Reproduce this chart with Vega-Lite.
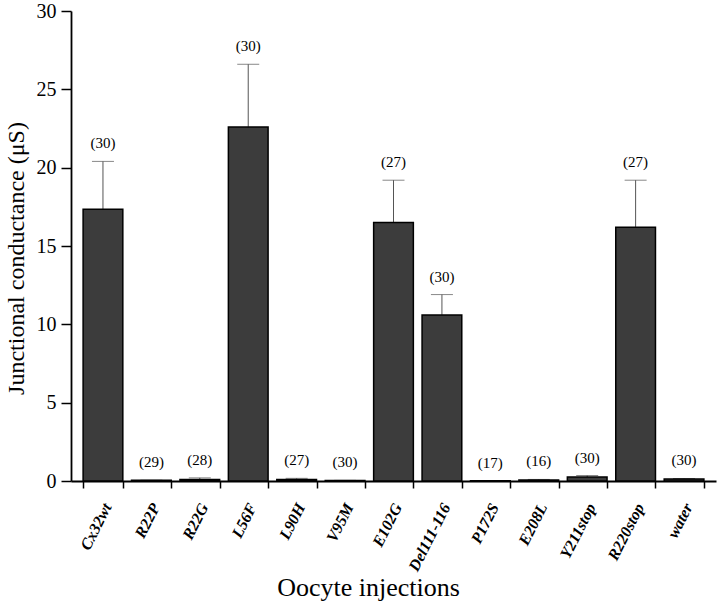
{
  "$schema": "https://vega.github.io/schema/vega-lite/v6.json",
  "width": 645,
  "height": 470,
  "autosize": {"type": "none"},
  "padding": {"left": 71, "top": 11, "right": 4, "bottom": 123},
  "background": "white",
  "config": {
    "font": "Liberation Serif",
    "axis": {"labelFont": "Liberation Serif", "titleFont": "Liberation Serif"},
    "text": {"font": "Liberation Serif"},
    "view": {"stroke": null}
  },
  "data": {
    "values": [
      {"mutant": "Cx32wt", "value": 17.35, "upper": 20.4, "n": "(30)"},
      {"mutant": "R22P", "value": 0.04, "upper": 0.05, "n": "(29)"},
      {"mutant": "R22G", "value": 0.1, "upper": 0.2, "n": "(28)"},
      {"mutant": "L56F", "value": 22.6, "upper": 26.6, "n": "(30)"},
      {"mutant": "L90H", "value": 0.1, "upper": 0.17, "n": "(27)"},
      {"mutant": "V95M", "value": 0.03, "upper": 0.04, "n": "(30)"},
      {"mutant": "E102G", "value": 16.5, "upper": 19.2, "n": "(27)"},
      {"mutant": "Del111-116", "value": 10.6, "upper": 11.9, "n": "(30)"},
      {"mutant": "P172S", "value": 0.02, "upper": 0.03, "n": "(17)"},
      {"mutant": "E208L", "value": 0.07, "upper": 0.1, "n": "(16)"},
      {"mutant": "Y211stop", "value": 0.25, "upper": 0.35, "n": "(30)"},
      {"mutant": "R220stop", "value": 16.2, "upper": 19.2, "n": "(27)"},
      {"mutant": "water", "value": 0.12, "upper": 0.16, "n": "(30)"}
    ]
  },
  "encoding": {
    "x": {
      "field": "mutant",
      "type": "nominal",
      "sort": null,
      "scale": {"paddingInner": 0.18, "paddingOuter": 0.25, "align": 0.5},
      "axis": {
        "title": "Oocyte injections",
        "titleFont": "Liberation Serif",
        "titleFontSize": 26,
        "titleFontWeight": "normal",
        "titleColor": "black",
        "titleX": 297,
        "titleY": 106,
        "titleAlign": "center",
        "titleBaseline": "middle",
        "labelFont": "Liberation Serif",
        "labelAngle": -63,
        "labelAlign": "right",
        "labelBaseline": "middle",
        "labelFontSize": 16,
        "labelFontWeight": "bold",
        "labelFontStyle": "italic",
        "labelColor": "black",
        "labelPadding": 16,
        "labelOffset": 4,
        "tickBand": "extent",
        "tickSize": 7,
        "tickWidth": 1.5,
        "tickColor": "black",
        "domainColor": "black",
        "domainWidth": 1.8,
        "grid": false
      }
    }
  },
  "layer": [
    {
      "mark": {"type": "rule", "color": "#555555", "strokeWidth": 1},
      "encoding": {
        "y": {"field": "value", "type": "quantitative"},
        "y2": {"field": "upper"}
      }
    },
    {
      "mark": {"type": "tick", "color": "#555555", "thickness": 1, "size": 22},
      "encoding": {
        "y": {"field": "upper", "type": "quantitative"}
      }
    },
    {
      "mark": {"type": "bar", "fill": "#3c3c3c", "stroke": "black", "strokeWidth": 1.5},
      "encoding": {
        "y": {
          "field": "value",
          "type": "quantitative",
          "scale": {"domain": [0, 30], "nice": false, "zero": true},
          "axis": {
            "title": "Junctional conductance (μS)",
            "titleFont": "Liberation Serif",
            "titleFontSize": 24,
            "titleFontWeight": "normal",
            "titleColor": "black",
            "titleX": -55,
            "titleY": 247,
            "titleBaseline": "middle",
            "values": [0, 2.5, 5, 7.5, 10, 12.5, 15, 17.5, 20, 22.5, 25, 27.5, 30],
            "labelExpr": "datum.value % 5 === 0 ? datum.label : ''",
            "labelFont": "Liberation Serif",
            "labelFontSize": 20,
            "labelColor": "black",
            "labelPadding": 5,
            "labelOverlap": false,
            "tickSize": {"condition": {"test": "datum.value % 5 === 0", "value": 10}, "value": 6},
            "tickWidth": 1.5,
            "tickColor": "black",
            "domainColor": "black",
            "domainWidth": 1.8,
            "grid": false
          }
        }
      }
    },
    {
      "mark": {"type": "text", "font": "Liberation Serif", "fontSize": 15, "dy": -18, "baseline": "middle", "color": "black"},
      "encoding": {
        "y": {"field": "upper", "type": "quantitative"},
        "text": {"field": "n"}
      }
    }
  ]
}
